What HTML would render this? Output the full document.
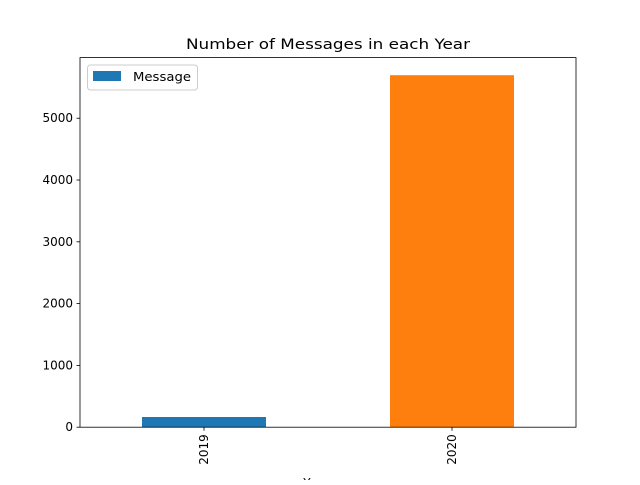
<!DOCTYPE html>
<html><head><meta charset="utf-8"><style>
body{margin:0;background:#fff;}
text{font-family:"DejaVu Sans","Liberation Sans",sans-serif;fill:#000;}
</style></head><body>
<svg id="chart" width="640" height="480" xmlns="http://www.w3.org/2000/svg">
<rect x="0" y="0" width="640" height="480" fill="#fff"/>
<text x="328" y="49" font-size="14.4" textLength="284" lengthAdjust="spacingAndGlyphs" text-anchor="middle">Number of Messages in each Year</text>
<g id="bars"></g>
<g id="yticks"></g>
<g id="xticks"></g>
<rect x="80" y="57.6" width="496" height="369.6" fill="none" stroke="#000" stroke-width="0.8"/>
<text x="316" y="487" font-size="12" text-anchor="middle">Year</text>
<g>
<rect x="87.5" y="65" width="110" height="25" rx="3" fill="#fff" stroke="#ccc" stroke-width="1"/>
<rect x="93" y="71" width="28" height="10" fill="#1f77b4"/>
<text x="133" y="81" font-size="12" textLength="58" lengthAdjust="spacingAndGlyphs">Message</text>
</g>
</svg>
<script>
const categories = ["2019", "2020"];
const values = [165, 5696];
const yTicks = [0, 1000, 2000, 3000, 4000, 5000];
const colors = ["#1f77b4", "#ff7f0e"];
const NS = "http://www.w3.org/2000/svg";
const L = 80, R = 576, T = 57.6, B = 427.2;
const yMax = Math.max(...values) * 1.05;
const y = v => B - v / yMax * (B - T);
const x = i => L + (i + 0.5) / categories.length * (R - L);
const bw = (R - L) / categories.length * 0.5;
const bars = document.getElementById('bars');
values.forEach((v, i) => {
  const r = document.createElementNS(NS, 'rect');
  r.setAttribute('x', x(i) - bw / 2);
  r.setAttribute('y', y(v));
  r.setAttribute('width', bw);
  r.setAttribute('height', B - y(v));
  r.setAttribute('fill', colors[i % colors.length]);
  
  
  bars.appendChild(r);
});
const yt = document.getElementById('yticks');
yTicks.forEach(t => {
  const l = document.createElementNS(NS, 'line');
  l.setAttribute('x1', L - 3.5); l.setAttribute('x2', L);
  l.setAttribute('y1', y(t)); l.setAttribute('y2', y(t));
  l.setAttribute('stroke', '#000'); l.setAttribute('stroke-width', '0.8');
  
  
  yt.appendChild(l);
  const s = document.createElementNS(NS, 'text');
  s.setAttribute('x', L - 7); s.setAttribute('y', y(t) + 4);
  s.setAttribute('font-size', '12'); s.setAttribute('text-anchor', 'end');
  s.textContent = t;
  
  
  yt.appendChild(s);
});
const xt = document.getElementById('xticks');
categories.forEach((c, i) => {
  const l = document.createElementNS(NS, 'line');
  l.setAttribute('x1', x(i)); l.setAttribute('x2', x(i));
  l.setAttribute('y1', B); l.setAttribute('y2', B + 3.5);
  l.setAttribute('stroke', '#000'); l.setAttribute('stroke-width', '0.8');
  
  
  xt.appendChild(l);
  const s = document.createElementNS(NS, 'text');
  s.setAttribute('transform', `translate(${x(i) + 4},${B + 7}) rotate(-90)`);
  s.setAttribute('font-size', '12'); s.setAttribute('text-anchor', 'end');
  s.textContent = c;
  
  
  xt.appendChild(s);
});
</script>
</body></html>
